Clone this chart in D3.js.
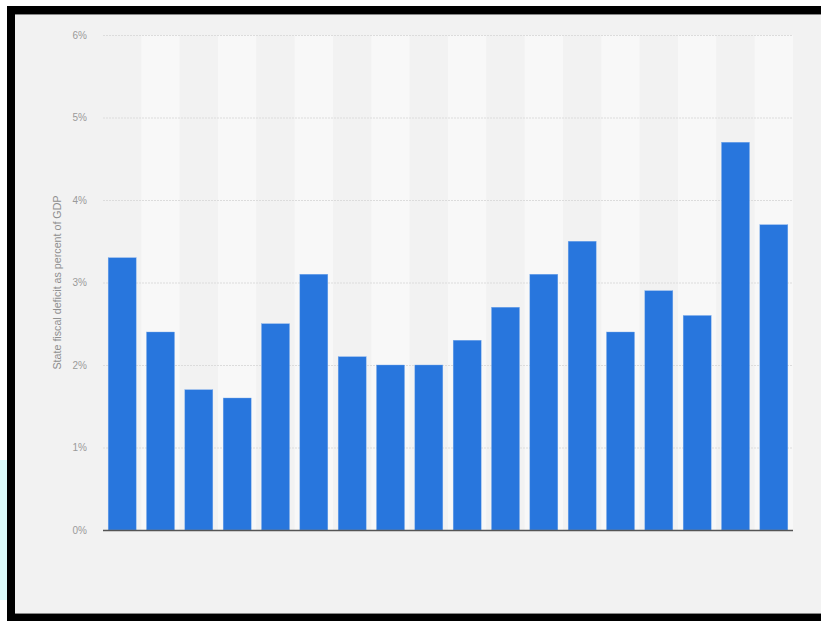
<!DOCTYPE html>
<html>
<head>
<meta charset="utf-8">
<script src="https://cdn.jsdelivr.net/npm/d3@7"></script>
<style>
  html, body { margin: 0; padding: 0; background: #ffffff; }
  svg { display: block; }
</style>
</head>
<body>
<svg id="chart" width="821" height="621"></svg>
<script>
// Fiscal years, one bar each (no category labels are drawn on the axis)
const years = ["Y1","Y2","Y3","Y4","Y5","Y6","Y7","Y8","Y9","Y10","Y11","Y12","Y13","Y14","Y15","Y16","Y17","Y18"];
// State fiscal deficit as percent of GDP
const deficit = [3.3, 2.4, 1.7, 1.6, 2.5, 3.1, 2.1, 2.0, 2.0, 2.3, 2.7, 3.1, 3.5, 2.4, 2.9, 2.6, 4.7, 3.7];
const yTicks = [0, 1, 2, 3, 4, 5, 6];
const yAxisTitle = "State fiscal deficit as percent of GDP";

const svg = d3.select("#chart");
const W = 821, H = 621;

// Light cyan strip at the far left
svg.append("rect").attr("x", 0).attr("y", 460).attr("width", 7).attr("height", 140).attr("fill", "#dcfbfb");

// Framed panel
svg.append("rect").attr("x", 7).attr("y", 6).attr("width", W - 7).attr("height", H - 6).attr("fill", "#000");
svg.append("rect").attr("x", 15).attr("y", 14).attr("width", W - 15).attr("height", 600).attr("fill", "#f2f2f2");
svg.append("line").attr("x1", 15).attr("x2", W).attr("y1", 14.5).attr("y2", 14.5).attr("stroke", "#888").attr("stroke-width", 1);
svg.append("line").attr("x1", 15).attr("x2", W).attr("y1", 613.5).attr("y2", 613.5).attr("stroke", "#888").attr("stroke-width", 1);

const plot = { left: 103, right: 793, top: 35, bottom: 530 };

const x = d3.scaleBand().domain(years).range([plot.left, plot.right]).paddingInner(0.27).paddingOuter(0.135);
const xBand = d3.scaleBand().domain(years).range([plot.left, plot.right]).padding(0);
const y = d3.scaleLinear().domain([0, 6]).range([plot.bottom, plot.top]);

// Alternating column bands
svg.append("g").selectAll("rect").data(years).join("rect")
  .attr("x", d => xBand(d))
  .attr("y", plot.top)
  .attr("width", xBand.bandwidth())
  .attr("height", plot.bottom - plot.top)
  .attr("fill", (d, i) => i % 2 ? "#f8f8f8" : "#f2f2f2");

// Horizontal gridlines and tick labels
const yAxis = d3.axisLeft(y).tickValues(yTicks).tickFormat(d => d + "%").tickSize(-(plot.right - plot.left)).tickPadding(16);
const gy = svg.append("g").attr("transform", `translate(${plot.left},0)`).call(yAxis);
gy.select(".domain").remove();
gy.selectAll(".tick line").attr("stroke", "#dcdcdc").attr("stroke-dasharray", "2,1");
gy.selectAll(".tick text")
  .attr("fill", "#9a9a9a")
  .attr("font-family", "Liberation Sans, Arial, sans-serif")
  .attr("font-size", 10);

// Bars
svg.append("g").selectAll("rect").data(deficit).join("rect")
  .attr("x", (d, i) => x(years[i]))
  .attr("y", d => y(d))
  .attr("width", x.bandwidth())
  .attr("height", d => y(0) - y(d))
  .attr("fill", "#2876dd")
  .attr("stroke", "#79abec")
  .attr("stroke-width", 0.4);

// Baseline
svg.append("line")
  .attr("x1", plot.left).attr("x2", plot.right)
  .attr("y1", y(0) + 0.5).attr("y2", y(0) + 0.5)
  .attr("stroke", "#555").attr("stroke-width", 1.5);

// Y axis title
svg.append("text")
  .attr("transform", `translate(61,${(plot.top + plot.bottom) / 2}) rotate(-90)`)
  .attr("text-anchor", "middle")
  .attr("fill", "#8f8f8f")
  .attr("font-family", "Liberation Sans, Arial, sans-serif")
  .attr("font-size", 10.7)
  .text(yAxisTitle);
</script>
</body>
</html>
